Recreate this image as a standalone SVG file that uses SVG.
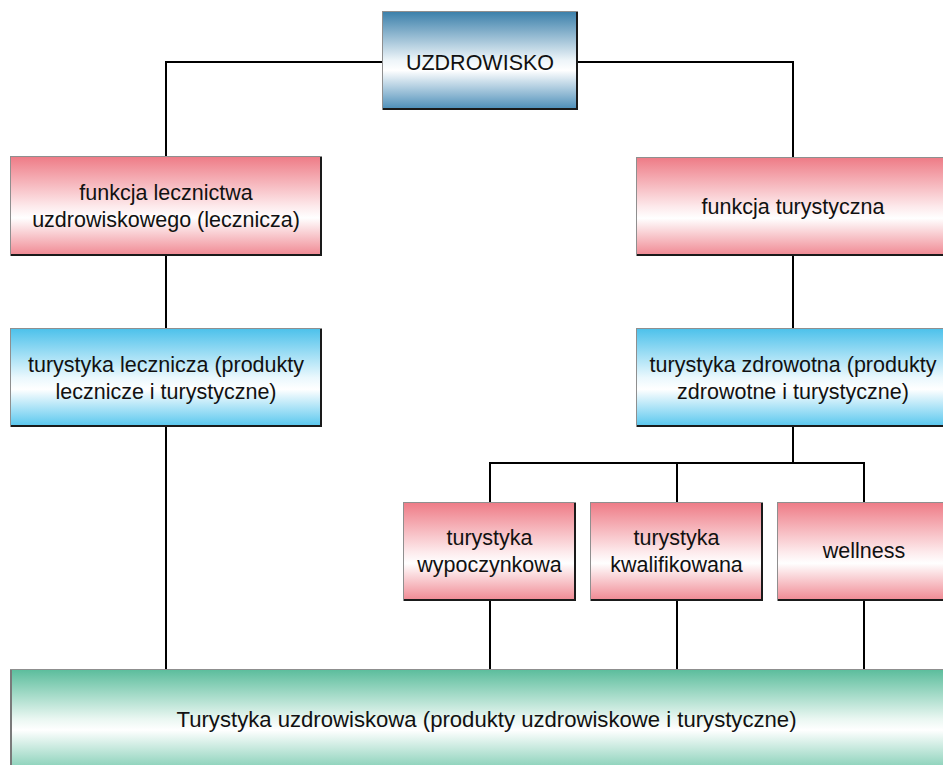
<svg xmlns="http://www.w3.org/2000/svg" width="943" height="765" viewBox="0 0 943 765">
  <defs>
    <linearGradient id="gPink" x1="0" y1="0" x2="0" y2="1">
      <stop offset="0" stop-color="#ee7b86"/>
      <stop offset="0.5" stop-color="#fde9eb"/>
      <stop offset="0.62" stop-color="#ffffff"/>
      <stop offset="1" stop-color="#f08892"/>
    </linearGradient>
    <linearGradient id="gSteel" x1="0" y1="0" x2="0" y2="1">
      <stop offset="0" stop-color="#3a7faa"/>
      <stop offset="0.5" stop-color="#eef5f9"/>
      <stop offset="0.6" stop-color="#ffffff"/>
      <stop offset="1" stop-color="#4a8db8"/>
    </linearGradient>
    <linearGradient id="gCyan" x1="0" y1="0" x2="0" y2="1">
      <stop offset="0" stop-color="#4cc1eb"/>
      <stop offset="0.5" stop-color="#eaf8fd"/>
      <stop offset="0.62" stop-color="#ffffff"/>
      <stop offset="1" stop-color="#56c6ee"/>
    </linearGradient>
    <linearGradient id="gGreen" x1="0" y1="0" x2="0" y2="1">
      <stop offset="0" stop-color="#5bbd9c"/>
      <stop offset="0.45" stop-color="#eaf7f2"/>
      <stop offset="0.55" stop-color="#ffffff"/>
      <stop offset="1" stop-color="#66c3a4"/>
    </linearGradient>
  </defs>
  <style>
    .box { stroke: #8f8f8f; stroke-width: 1; }
    .edge { fill: none; stroke: #1a1a1a; stroke-width: 2; }
    .lbl { font-family: "Liberation Sans", Arial, sans-serif; font-size: 21.5px; fill: #111; text-anchor: middle; }
    .wire { fill: none; stroke: #000; stroke-width: 2; }
  </style>

  <rect width="943" height="765" fill="#ffffff"/>

  <!-- connectors -->
  <g id="connectors">
    <polyline class="wire" points="382,62 166,62 166,156"/>
    <polyline class="wire" points="578,62 793,62 793,157"/>
    <line class="wire" x1="166" y1="256" x2="166" y2="328"/>
    <line class="wire" x1="793" y1="256" x2="793" y2="328"/>
    <line class="wire" x1="166" y1="427" x2="166" y2="669"/>
    <line class="wire" x1="793" y1="427" x2="793" y2="463"/>
    <polyline class="wire" points="490,502 490,463 864,463 864,502"/>
    <line class="wire" x1="677" y1="463" x2="677" y2="502"/>
    <line class="wire" x1="490" y1="601" x2="490" y2="669"/>
    <line class="wire" x1="677" y1="601" x2="677" y2="669"/>
    <line class="wire" x1="864" y1="601" x2="864" y2="669"/>
  </g>

  <!-- root -->
  <g id="uzdrowisko">
    <rect class="box" x="382.5" y="11.5" width="195" height="98" fill="url(#gSteel)"/>
    <polyline class="edge" points="577,12 577,109 383,109" stroke-width="2.5"/>
    <text class="lbl" x="480" y="69.5">UZDROWISKO</text>
  </g>

  <g id="funkcja-lecznictwa">
    <rect class="box" x="10.5" y="156.5" width="311" height="99" fill="url(#gPink)"/>
    <polyline class="edge" points="321,157 321,255 11,255"/>
    <text class="lbl" x="166" y="200">funkcja lecznictwa</text>
    <text class="lbl" x="166" y="227">uzdrowiskowego (lecznicza)</text>
  </g>

  <g id="funkcja-turystyczna">
    <rect class="box" x="636.5" y="157.5" width="316" height="98" fill="url(#gPink)"/>
    <line class="edge" x1="637" y1="255" x2="952" y2="255"/>
    <text class="lbl" x="793" y="214">funkcja turystyczna</text>
  </g>

  <g id="turystyka-lecznicza">
    <rect class="box" x="10.5" y="328.5" width="311" height="98" fill="url(#gCyan)"/>
    <polyline class="edge" points="321,329 321,426 11,426"/>
    <text class="lbl" x="166" y="372">turystyka lecznicza (produkty</text>
    <text class="lbl" x="166" y="399">lecznicze i turystyczne)</text>
  </g>

  <g id="turystyka-zdrowotna">
    <rect class="box" x="636.5" y="328.5" width="316" height="98" fill="url(#gCyan)"/>
    <line class="edge" x1="637" y1="426" x2="952" y2="426"/>
    <text class="lbl" x="793" y="372">turystyka zdrowotna (produkty</text>
    <text class="lbl" x="793" y="399">zdrowotne i turystyczne)</text>
  </g>

  <g id="turystyka-wypoczynkowa">
    <rect class="box" x="403.5" y="502.5" width="172" height="98" fill="url(#gPink)"/>
    <polyline class="edge" points="575,503 575,600 404,600"/>
    <text class="lbl" x="489.5" y="545">turystyka</text>
    <text class="lbl" x="489.5" y="572">wypoczynkowa</text>
  </g>

  <g id="turystyka-kwalifikowana">
    <rect class="box" x="590.5" y="502.5" width="172" height="98" fill="url(#gPink)"/>
    <polyline class="edge" points="762,503 762,600 591,600"/>
    <text class="lbl" x="676.5" y="545">turystyka</text>
    <text class="lbl" x="676.5" y="572">kwalifikowana</text>
  </g>

  <g id="wellness">
    <rect class="box" x="777.5" y="502.5" width="175" height="98" fill="url(#gPink)"/>
    <line class="edge" x1="778" y1="600" x2="952" y2="600"/>
    <text class="lbl" x="864" y="558">wellness</text>
  </g>

  <g id="turystyka-uzdrowiskowa">
    <rect class="box" x="10.5" y="669.5" width="945" height="110" fill="url(#gGreen)"/>
    <line x1="11" y1="670" x2="11" y2="765" stroke="#7a7a7a" stroke-width="2"/>
    <text class="lbl" x="486.5" y="727" font-size="22.5" textLength="620" lengthAdjust="spacingAndGlyphs">Turystyka uzdrowiskowa (produkty uzdrowiskowe i turystyczne)</text>
  </g>
</svg>
